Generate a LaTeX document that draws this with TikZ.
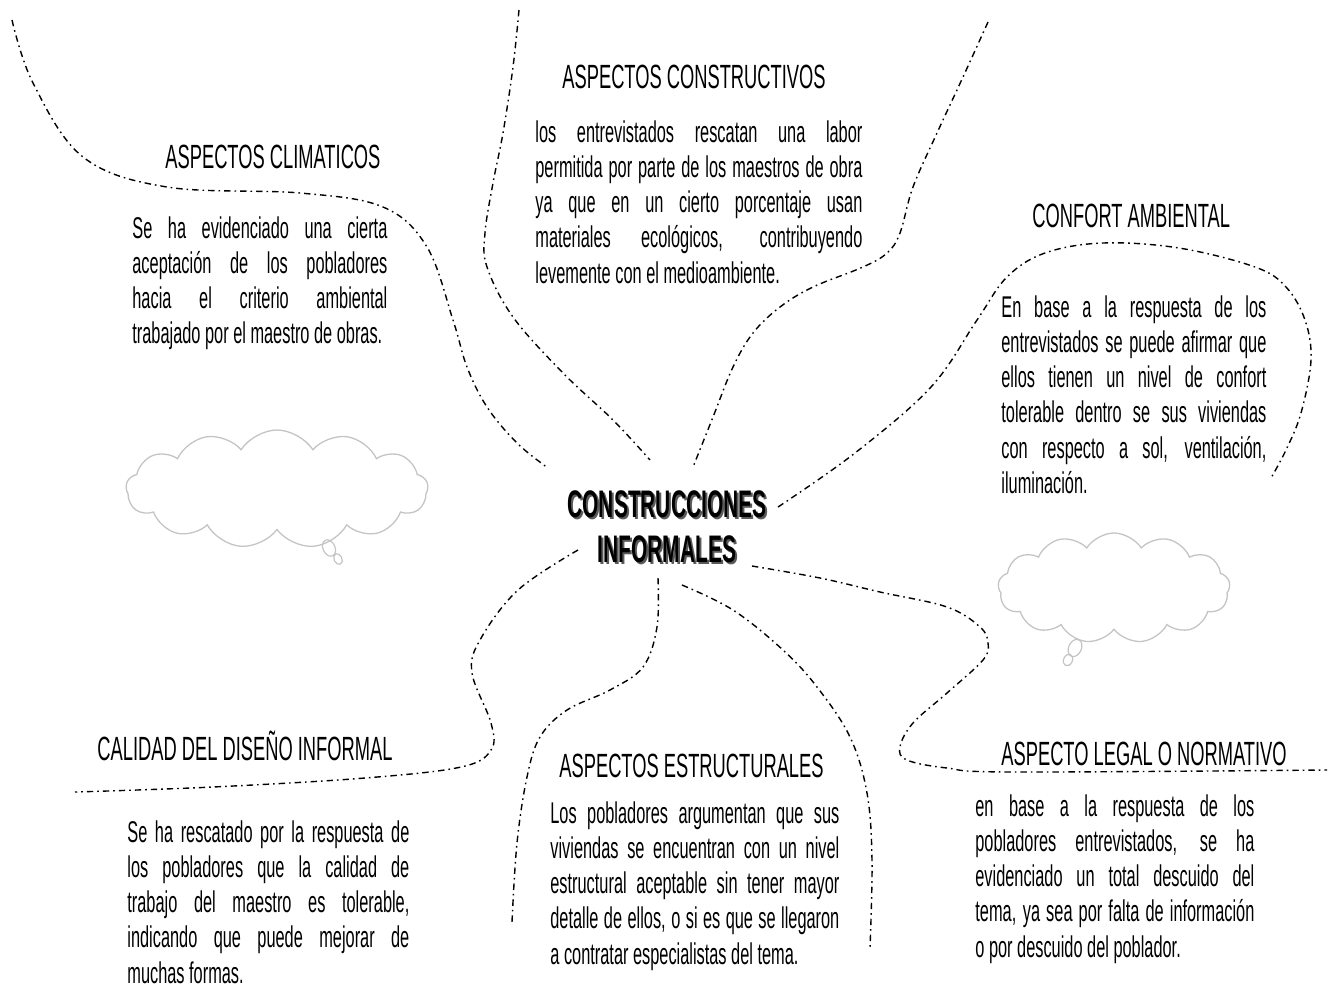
\documentclass[tikz,border=0pt]{standalone}
\usepackage{fontspec}
\setmainfont{Liberation Sans}[FakeStretch=0.545]
\usetikzlibrary{shapes.symbols}
\definecolor{CloudGray}{HTML}{C4C4C4}
\definecolor{ShadowGray}{HTML}{5A5A5A}

\tikzset{
  branch/.style={black, line width=0.7pt, dash pattern=on 3.2pt off 2pt on 0.8pt off 2pt},
  heading/.style={anchor=base west, inner sep=0pt, font=\fontsize{16.8}{20}\selectfont},
  bodytext/.style={anchor=base west, inner sep=0pt, align=justify, font=\fontsize{15}{17.65}\selectfont},
  thought/.style={cloud, cloud puffs=13, cloud puff arc=115, aspect=2.6, draw=CloudGray, line width=0.65pt, inner sep=0pt},
  bubble/.style={draw=CloudGray, line width=0.6pt},
  maintitle/.style={anchor=base, inner sep=0pt, text width=140pt, align=center, font=\bfseries\fontsize{19.2}{22.5}\selectfont}
}

\begin{document}
\begin{tikzpicture}[x=0.5pt, y=-0.5pt]
  % --- FRAME (pixel grid, y downwards) ---
  \useasboundingbox (0,0) rectangle (1335,987);

  % =====================================================================
  % 1. BOUNDARY CURVES (dash-dot)
  % =====================================================================
  % climaticos
  \draw[branch] plot[smooth, tension=0.6] coordinates {(12,20) (33,83) (83,157) (167,187) (300,193) (383,207) (427,247) (453,320) (467,367) (487,407) (517,443) (548,468)};
  % constructivos, left and right
  \draw[branch] plot[smooth, tension=0.6] coordinates {(519,10) (513,67) (503,133) (493,183) (485,233) (487,267) (513,317) (563,373) (613,420) (650,460)};
  \draw[branch] plot[smooth, tension=0.6] coordinates {(988,22) (963,77) (937,133) (913,187) (900,233) (887,253) (863,267) (813,287) (780,307) (753,333) (733,367) (713,417) (693,467)};
  % confort ambiental
  \draw[branch] plot[smooth, tension=0.6] coordinates {(778,507) (855,453) (931,387) (977,320) (1007,277) (1045,253) (1103,243) (1179,248) (1255,267) (1286,287) (1305,320) (1311,360) (1301,413) (1286,450) (1271,478)};
  % legal o normativo
  \draw[branch] plot[smooth, tension=0.6] coordinates {(752,566) (820,578) (880,592) (947,607) (980,627) (988,643) (983,660) (947,693) (913,723) (900,747) (907,760) (947,768) (1013,772) (1327,770)};
  % estructurales, right and left
  \draw[branch] plot[smooth, tension=0.6] coordinates {(682,585) (733,610) (783,650) (817,687) (850,737) (867,793) (872,860) (870,948)};
  \draw[branch] plot[smooth, tension=0.6] coordinates {(658,578) (657,627) (643,667) (610,690) (567,710) (540,737) (527,777) (517,843) (512,922)};
  % calidad del diseno
  \draw[branch] plot[smooth, tension=0.6] coordinates {(578,550) (518,590) (480,640) (472,673) (491,723) (491,750) (461,767) (365,778) (213,787) (75,792)};

  % =====================================================================
  % 2. THOUGHT CLOUDS
  % =====================================================================
  \node[thought, minimum width=151pt, minimum height=59pt] (cloudLeft) at (277,489) {};
  \draw[bubble] (329,548) ellipse [x radius=3pt, y radius=4.3pt, rotate=25];
  \draw[bubble] (338,559) ellipse [x radius=2pt, y radius=2.8pt, rotate=25];

  \node[thought, minimum width=116pt, minimum height=55pt] (cloudRight) at (1114,588) {};
  \draw[bubble] (1075,648) ellipse [x radius=3.2pt, y radius=4.5pt, rotate=-25];
  \draw[bubble] (1068,660) ellipse [x radius=2.2pt, y radius=3pt, rotate=-25];

  % =====================================================================
  % 3. CENTRAL TITLE (with shadow)
  % =====================================================================
  \node[maintitle, text=ShadowGray] (centerShadow) at (669,519) {CONSTRUCCIONES\\INFORMALES};
  \node[maintitle] (center) at (667,517) {CONSTRUCCIONES\\INFORMALES};

  % =====================================================================
  % 4. TOPICS
  % =====================================================================
  % Aspectos climaticos
  \node[heading] (climTitle) at (165,168) {ASPECTOS CLIMATICOS};
  \node[bodytext, text width=127.5pt] (climText) at (132,238)
    {Se ha evidenciado una cierta\linebreak aceptación de los pobladores\linebreak hacia el criterio ambiental\linebreak \mbox{trabajado por el maestro de obras.}};

  % Aspectos constructivos
  \node[heading] (consTitle) at (562,88) {ASPECTOS CONSTRUCTIVOS};
  \node[bodytext, text width=163.5pt] (consText) at (535,142)
    {los entrevistados rescatan una labor\linebreak permitida por parte de los maestros de obra\linebreak ya que en un cierto porcentaje usan\linebreak materiales ecológicos, contribuyendo\linebreak levemente con el medioambiente.};

  % Confort ambiental
  \node[heading] (confTitle) at (1032,227) {CONFORT AMBIENTAL};
  \node[bodytext, text width=132.5pt] (confText) at (1001,317)
    {En base a la respuesta de los\linebreak entrevistados se puede afirmar que\linebreak ellos tienen un nivel de confort\linebreak tolerable dentro se sus viviendas\linebreak con respecto a sol, ventilación,\linebreak iluminación.};

  % Calidad del diseno informal
  \node[heading] (calTitle) at (97,760) {CALIDAD DEL DISEÑO INFORMAL};
  \node[bodytext, text width=141pt] (calText) at (127,842)
    {Se ha rescatado por la respuesta de\linebreak los pobladores que la calidad de\linebreak trabajo del maestro es tolerable,\linebreak indicando que puede mejorar de\linebreak muchas formas.};

  % Aspectos estructurales
  \node[heading] (estTitle) at (559,777) {ASPECTOS ESTRUCTURALES};
  \node[bodytext, text width=144.5pt] (estText) at (550,823)
    {Los pobladores argumentan que sus\linebreak viviendas se encuentran con un nivel\linebreak estructural aceptable sin tener mayor\linebreak detalle de ellos, o si es que se llegaron\linebreak a contratar especialistas del tema.};

  % Aspecto legal o normativo
  \node[heading] (legTitle) at (1001,765) {ASPECTO LEGAL O NORMATIVO};
  \node[bodytext, text width=139.5pt] (legText) at (975,816)
    {en base a la respuesta de los\linebreak pobladores entrevistados, se ha\linebreak evidenciado un total descuido del\linebreak tema, ya sea por falta de información\linebreak o por descuido del poblador.};

\end{tikzpicture}
\end{document}
